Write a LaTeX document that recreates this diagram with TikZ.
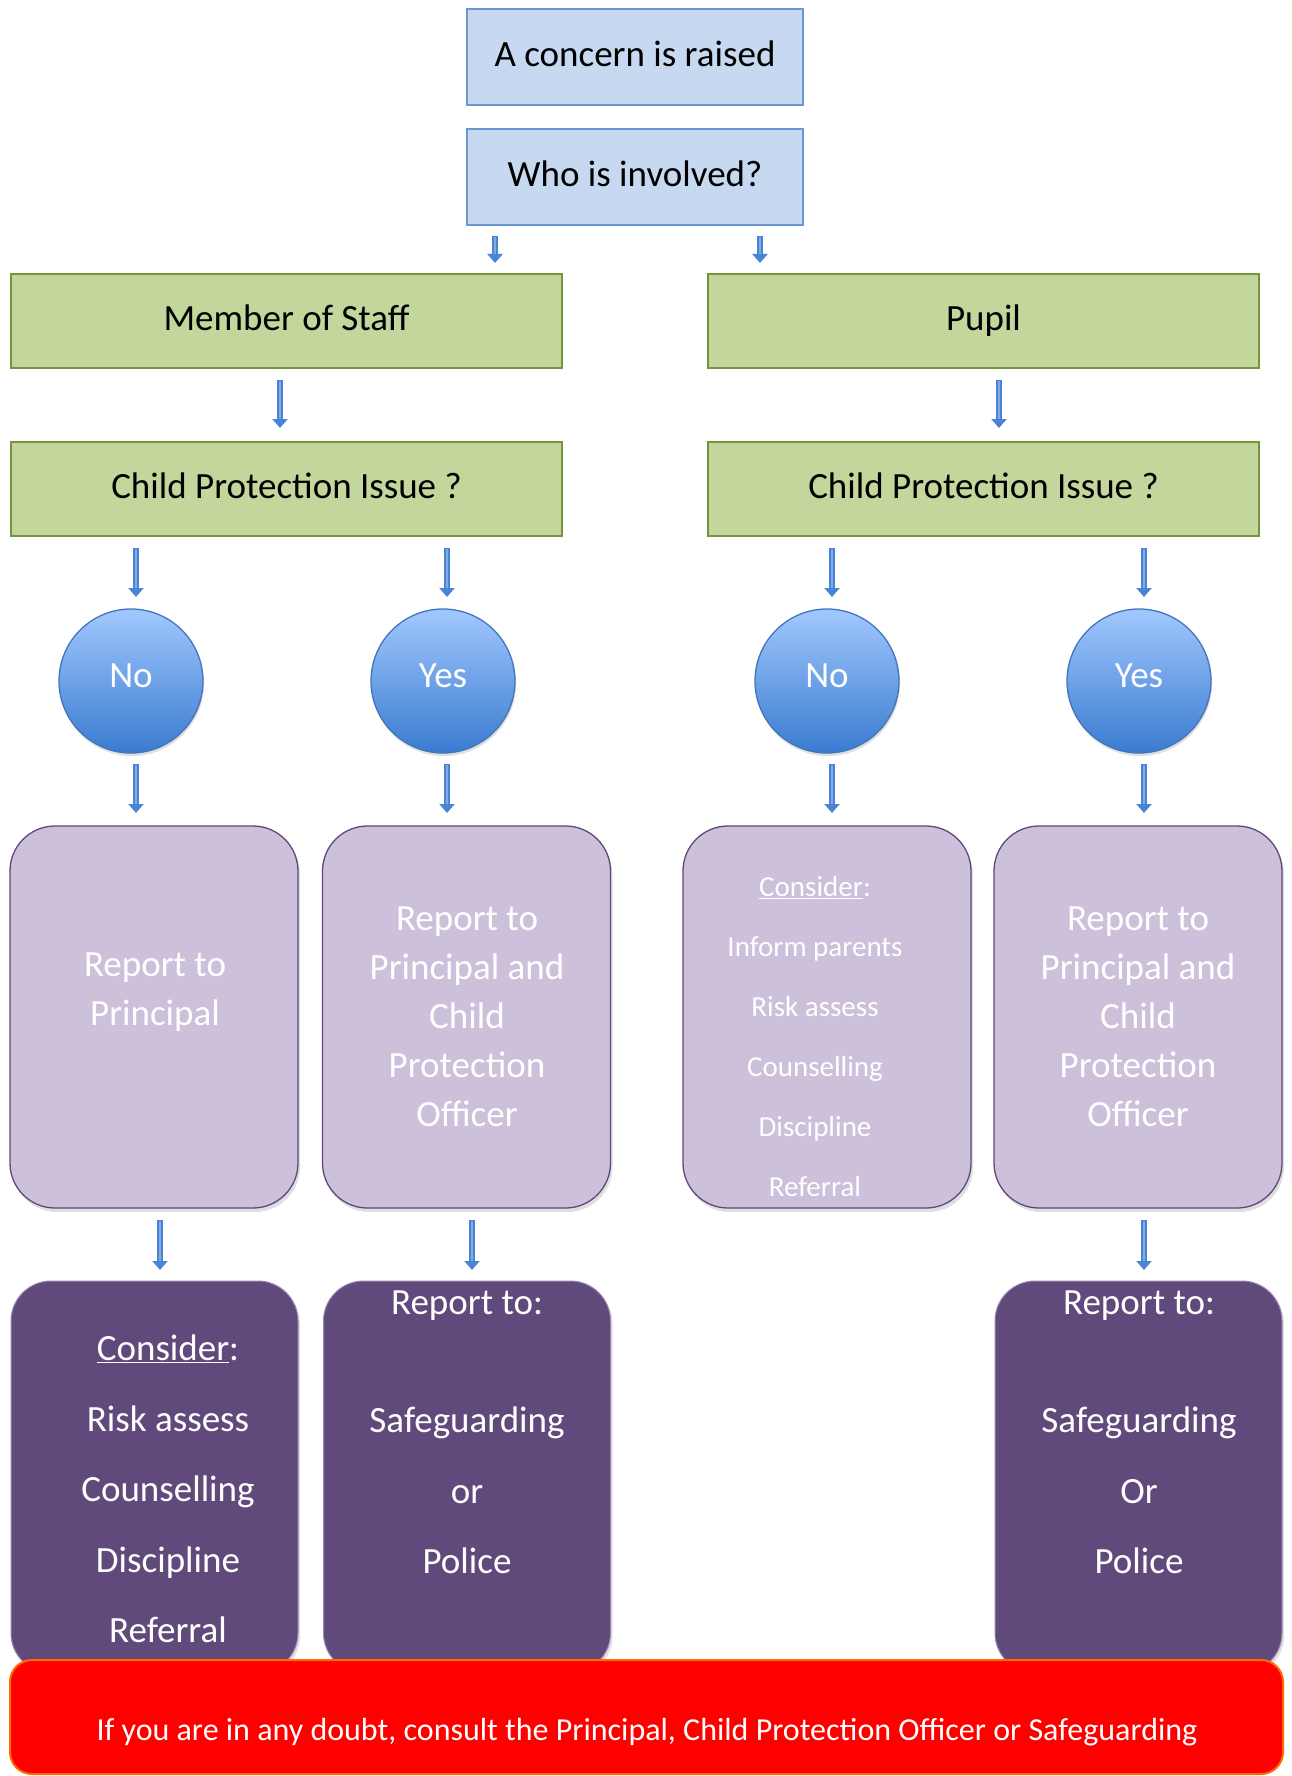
\documentclass[tikz,border=0pt]{standalone}
\usepackage{fontspec}
\setmainfont{Carlito}
\usetikzlibrary{arrows.meta,shadows}
\definecolor{boxblue}{HTML}{C6D9F1}
\definecolor{boxblueline}{HTML}{6A98D4}
\definecolor{boxgreen}{HTML}{C3D69B}
\definecolor{boxgreenline}{HTML}{77933C}
\definecolor{circtop}{HTML}{A2C8FF}
\definecolor{circbot}{HTML}{3A7BD0}
\definecolor{circline}{HTML}{4375B8}
\definecolor{lilac}{HTML}{CCC0DA}
\definecolor{lilacline}{HTML}{5F497A}
\definecolor{plum}{HTML}{604A7B}
\definecolor{plumline}{HTML}{9A86B4}
\definecolor{arrowblue}{HTML}{4A85D4}
\definecolor{arrowlight}{HTML}{7FAAE6}
\definecolor{warnred}{HTML}{FF0000}
\definecolor{warnline}{HTML}{FF6A00}
\begin{document}
\begin{tikzpicture}[x=1pt,y=-1pt,
  bluebox/.style={draw=boxblueline, fill=boxblue, line width=1.3pt, minimum width=336pt, minimum height=96pt, inner sep=0pt, text height=27pt, text depth=8pt, font=\fontsize{37}{44}\selectfont},
  greenbox/.style={draw=boxgreenline, fill=boxgreen, line width=1.3pt, minimum width=551pt, minimum height=94pt, inner sep=0pt, text height=27pt, text depth=8pt, font=\fontsize{37}{44}\selectfont},
  ball/.style={circle, draw=circline, line width=1.3pt, top color=circtop, bottom color=circbot, minimum size=144pt, inner sep=0pt, text=white, text depth=10pt, font=\fontsize{37}{44}\selectfont, drop shadow={shadow xshift=1pt, shadow yshift=-3pt, opacity=0.25}},
  lilacbox/.style={draw=lilacline, fill=lilac, line width=1.3pt, rounded corners=45pt, minimum width=288pt, minimum height=382pt, inner sep=0pt, drop shadow={shadow xshift=2pt, shadow yshift=-4pt, opacity=0.25}},
  plumbox/.style={draw=plumline, fill=plum, line width=1pt, rounded corners=40pt, minimum width=287pt, minimum height=392pt, inner sep=0pt, drop shadow={shadow xshift=2pt, shadow yshift=-3pt, opacity=0.25}},
  warnbox/.style={draw=warnline, fill=warnred, line width=2pt, rounded corners=22pt, minimum width=1273pt, minimum height=114pt, inner sep=0pt},
  boxtext/.style={text=white, align=center, inner sep=0pt, font=\fontsize{37}{49}\selectfont},
  smalltext/.style={text=white, align=center, inner sep=0pt, font=\fontsize{29}{60}\selectfont},
  listtext/.style={text=white, align=center, inner sep=0pt, font=\fontsize{37}{70.5}\selectfont},
  blockarrow/.style={draw=arrowblue, line width=6pt, -{Triangle[width=15pt,length=9pt]}},
  arrowshine/.style={draw=arrowlight, line width=2pt, shorten >=9pt, shorten <=1pt}
]
\useasboundingbox (0,0) rectangle (1291,1776);
\fill[white] (0,0) rectangle (1291,1776);

% top boxes
\node[bluebox] (concern) at (635,57) {A concern is raised};
\node[bluebox] (who) at (635,177) {Who is involved?};
\node[greenbox] (staff) at (286.5,321) {Member of Staff};
\node[greenbox] (pupil) at (983.5,321) {Pupil};
\node[greenbox] (cpis) at (286.5,489) {Child Protection Issue ?};
\node[greenbox] (cpip) at (983.5,489) {Child Protection Issue ?};

% circles
\node[ball] (nos) at (131,681) {No};
\node[ball] (yess) at (443,681) {Yes};
\node[ball] (nop) at (827,681) {No};
\node[ball] (yesp) at (1139,681) {Yes};

% lilac boxes
\node[lilacbox] (rs1) at (154,1017) {};
\node[lilacbox] (rs2) at (466.5,1017) {};
\node[lilacbox] (rp1) at (827,1017) {};
\node[lilacbox] (rp2) at (1138,1017) {};
\node[boxtext] (rs1t) at (155,992.5) {Report to\\Principal};
\node[boxtext] (rs2t) at (467,1016.5) {Report to\\Principal and\\Child\\Protection\\Officer};
\node[smalltext] (rp1t) at (815,1037) {\underline{Consider}:\\Inform parents\\Risk assess\\Counselling\\Discipline\\Referral};
\node[boxtext] (rp2t) at (1138,1016.5) {Report to\\Principal and\\Child\\Protection\\Officer};

% plum boxes
\node[plumbox] (ds1) at (154.5,1477) {};
\node[plumbox] (ds2) at (467,1477) {};
\node[plumbox] (dp2) at (1138.5,1477) {};
\node[listtext] (ds1t) at (168,1489) {\underline{Consider}:\\Risk assess\\Counselling\\Discipline\\Referral};
\node[listtext] (ds2t) at (467,1432) {Report to:\\[48pt]Safeguarding\\or\\Police};
\node[listtext] (dp2t) at (1139,1432) {Report to:\\[48pt]Safeguarding\\Or\\Police};

% warning
\node[warnbox] (warn) at (646.5,1717) {};
\node[text=white, inner sep=0pt, font=\fontsize{32}{38}\selectfont] (warnt) at (647,1732) {If you are in any doubt, consult the Principal, Child Protection Officer or Safeguarding};

% arrow coordinates
\foreach \n/\x/\ya/\yb in {a1/495/236/263, a2/760/236/263, a3/280/380/428, a4/999/380/428,
  a5/136/548/597, a6/447/548/597, a7/832/548/597, a8/1144/548/597,
  a9/136/764/813, a10/447/764/813, a11/832/764/813, a12/1144/764/813,
  a13/160/1220/1270, a14/472/1220/1270, a15/1144/1220/1270}{
  \coordinate (\n s) at (\x,\ya);
  \coordinate (\n e) at (\x,\yb);
}
\foreach \n in {a1,a2,a3,a4,a5,a6,a7,a8,a9,a10,a11,a12,a13,a14,a15}{
  \draw[blockarrow] (\n s) -- (\n e);
  \draw[arrowshine] (\n s) -- (\n e);
}
\end{tikzpicture}
\end{document}
